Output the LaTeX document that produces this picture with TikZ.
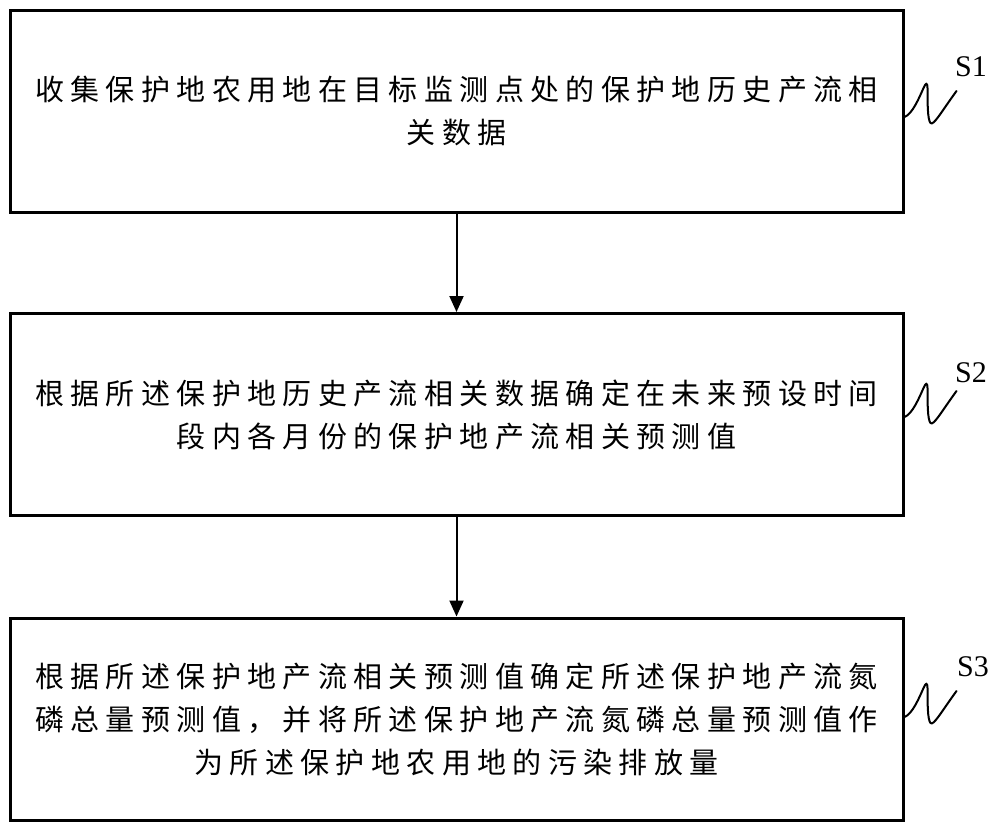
\documentclass[tikz,border=0pt]{standalone}
\usepackage{fontspec}
\usetikzlibrary{arrows.meta}
\newfontfamily\cjk{Noto Sans CJK SC}[LetterSpace=22]
\newfontfamily\lab{Liberation Serif}
\begin{document}
\begin{tikzpicture}[x=1pt,y=-1pt,
  stepbox/.style={draw,line width=3pt,minimum width=893pt,minimum height=202pt,inner sep=0pt,align=center,
    font=\cjk\fontsize{29}{43}\selectfont},
  conn/.style={line width=2pt,-{Triangle[length=16pt,width=14pt]}},
  squig/.style={line width=2pt,line cap=round},
  steplab/.style={font=\lab\fontsize{30}{32}\selectfont,inner sep=0pt}]
\useasboundingbox (0,0) rectangle (1000,833);
\node[stepbox] (b1) at (456.5,111) {收集保护地农用地在目标监测点处的保护地历史产流相\\关数据};
\node[stepbox] (b2) at (456.5,414.5) {根据所述保护地历史产流相关数据确定在未来预设时间\\段内各月份的保护地产流相关预测值};
\node[stepbox] (b3) at (456.5,719) {根据所述保护地产流相关预测值确定所述保护地产流氮\\磷总量预测值，并将所述保护地产流氮磷总量预测值作\\为所述保护地农用地的污染排放量};
\draw[conn] (b1.south) -- (b2.north);
\draw[conn] (b2.south) -- (b3.north);
\node[steplab] (s1) at (971,67) {S1};
\node[steplab] (s2) at (971,373) {S2};
\node[steplab] (s3) at (973,667) {S3};
\foreach \b/\d in {b1/-6,b2/-2.5,b3/2}{
  \begin{scope}[shift={([yshift=\d pt]\b.east)}]
  \draw[squig] (0,0) .. controls (8,-3) and (15,-20) .. (19,-29)
     .. controls (21,-34) and (23,-35) .. (23,-29)
     .. controls (23,-15) and (23,3) .. (26,6)
     .. controls (29,9) and (36,-4) .. (52,-26);
  \end{scope}
}
\end{tikzpicture}
\end{document}
